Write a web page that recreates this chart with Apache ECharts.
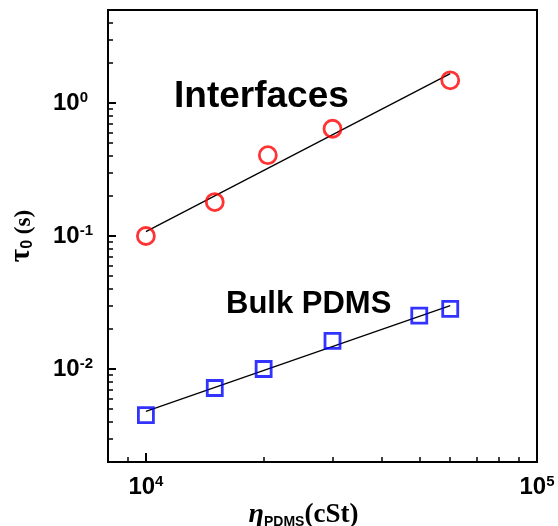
<!DOCTYPE html>
<html>
<head>
<meta charset="utf-8">
<script src="https://cdn.jsdelivr.net/npm/echarts@6/dist/echarts.min.js"></script>
<style>html,body{margin:0;padding:0;background:#fff}#c{width:558px;height:526px}</style>
</head>
<body>
<div id="c"></div>
<script>
// ---- data ----
var interfacesX = [10000, 15000, 20500, 30000, 60000];
var interfacesY = [0.100, 0.180, 0.405, 0.640, 1.48];
var bulkX = [10000, 15000, 20000, 30000, 50000, 60000];
var bulkY = [0.0045, 0.0072, 0.0100, 0.0163, 0.0252, 0.0283];
var interfacesFitX = [10000, 60000];
var interfacesFitY = [0.108, 1.66];
var bulkFitX = [10000, 60000];
var bulkFitY = [0.0048, 0.0300];
var xMajorTicks = [10000, 100000];
var xMinorTicks = [9000, 20000, 30000, 40000, 50000, 60000, 70000, 80000, 90000];
var yMajorTicks = [0.01, 0.1, 1];
var yMinorTicks = [0.003, 0.004, 0.005, 0.006, 0.007, 0.008, 0.009,
                   0.02, 0.03, 0.04, 0.05, 0.06, 0.07, 0.08, 0.09,
                   0.2, 0.3, 0.4, 0.5, 0.6, 0.7, 0.8, 0.9, 2, 3, 4];
var seriesNames = ['Interfaces', 'Bulk PDMS'];

function zip(a, b) { return a.map(function (v, i) { return [v, b[i]]; }); }

var SANS = 'Arial, "Liberation Sans", sans-serif';
var SERIF = '"Times New Roman", "Liberation Serif", serif';

function powLabel(v) {
  var e = Math.round(Math.log10(v));
  var s = e < 0 ? '-' + (-e) : '' + e;
  return '{b|10}{s|' + s + '}';
}
var powRich = {
  b: { fontFamily: SANS, fontWeight: 'bold', fontSize: 24, color: '#000', lineHeight: 26 },
  s: { fontFamily: SANS, fontWeight: 'bold', fontSize: 15, color: '#000', verticalAlign: 'top', lineHeight: 16 }
};

var chart = echarts.init(document.getElementById('c'), null, { renderer: 'canvas' });
var option = {
  animation: false,
  backgroundColor: '#fff',
  grid: { left: 108, top: 10, right: 21, bottom: 64, containLabel: false, outerBoundsMode: 'none',
          show: true, borderColor: '#000', borderWidth: 2, backgroundColor: 'transparent' },
  xAxis: [
    {
      type: 'log', min: 8000, max: 100000, position: 'bottom',
      axisLine: { show: true, lineStyle: { color: '#000', width: 2 } },
      axisTick: { show: true, inside: true, length: 9, lineStyle: { color: '#000', width: 2 }, customValues: xMajorTicks },
      axisLabel: { show: true, margin: 12, formatter: powLabel, rich: powRich, customValues: xMajorTicks },
      splitLine: { show: false },
      name: '{eta|η}{sub|PDMS}{p|(cSt)}',
      nameLocation: 'middle', nameGap: 33, nameMoveOverlap: false,
      nameTextStyle: {
        padding: [0, 38, 0, 0],
        rich: {
          eta: { fontFamily: SERIF, fontStyle: 'italic', fontWeight: 'bold', fontSize: 28, color: '#000', lineHeight: 30, verticalAlign: 'bottom' },
          sub: { fontFamily: SANS, fontWeight: 'bold', fontSize: 14, color: '#000', lineHeight: 14, verticalAlign: 'bottom' },
          p: { fontFamily: SERIF, fontWeight: 'bold', fontSize: 27, color: '#000', lineHeight: 34, verticalAlign: 'bottom' }
        }
      }
    },
    {
      type: 'log', min: 8000, max: 100000, position: 'bottom',
      axisLine: { show: false },
      axisTick: { show: true, inside: true, length: 5, lineStyle: { color: '#000', width: 1.5 }, customValues: xMinorTicks },
      axisLabel: { show: false },
      splitLine: { show: false }
    }
  ],
  yAxis: [
    {
      type: 'log', min: 0.002, max: 5, position: 'left',
      axisLine: { show: true, lineStyle: { color: '#000', width: 2 } },
      axisTick: { show: true, inside: true, length: 8, lineStyle: { color: '#000', width: 2 }, customValues: yMajorTicks },
      axisLabel: { show: true, margin: 55, align: 'left', formatter: powLabel, rich: powRich, customValues: yMajorTicks },
      splitLine: { show: false },
      name: '{t|τ}{sub|0}{p| (s)}',
      nameLocation: 'middle', nameGap: 72, nameRotate: 90, nameMoveOverlap: false,
      nameTextStyle: {
        rich: {
          t: { fontFamily: SERIF, fontWeight: 'bold', fontSize: 29, color: '#000', lineHeight: 30, verticalAlign: 'bottom' },
          sub: { fontFamily: SANS, fontWeight: 'bold', fontSize: 16, color: '#000', lineHeight: 14, verticalAlign: 'bottom' },
          p: { fontFamily: SERIF, fontWeight: 'bold', fontSize: 23, color: '#000', lineHeight: 34, verticalAlign: 'bottom' }
        }
      }
    },
    {
      type: 'log', min: 0.002, max: 5, position: 'left',
      axisLine: { show: false },
      axisTick: { show: true, inside: true, length: 5, lineStyle: { color: '#000', width: 1.5 }, customValues: yMinorTicks },
      axisLabel: { show: false },
      splitLine: { show: false }
    }
  ],
  graphic: [
    { type: 'text', left: 174, top: 78, style: { text: seriesNames[0], fontFamily: SANS, fontWeight: 'bold', fontSize: 37, fill: '#000' } },
    { type: 'text', left: 226, top: 289, style: { text: seriesNames[1], fontFamily: SANS, fontWeight: 'bold', fontSize: 31, fill: '#000' } }
  ],
  series: [
    { type: 'line', name: 'fit1', data: zip(interfacesFitX, interfacesFitY), symbol: 'none', lineStyle: { color: '#000', width: 1.3 }, z: 2 },
    { type: 'line', name: 'fit2', data: zip(bulkFitX, bulkFitY), symbol: 'none', lineStyle: { color: '#000', width: 1.3 }, z: 2 },
    { type: 'scatter', name: seriesNames[0], data: zip(interfacesX, interfacesY), symbol: 'circle', symbolSize: 17,
      itemStyle: { color: 'rgba(0,0,0,0)', borderColor: '#ff0000', borderWidth: 2.8 }, z: 3 },
    { type: 'scatter', name: seriesNames[1], data: zip(bulkX, bulkY), symbol: 'rect', symbolSize: 15,
      itemStyle: { color: 'rgba(0,0,0,0)', borderColor: '#0000ff', borderWidth: 2.8 }, z: 3 }
  ]
};
chart.setOption(option);
</script>
</body>
</html>
